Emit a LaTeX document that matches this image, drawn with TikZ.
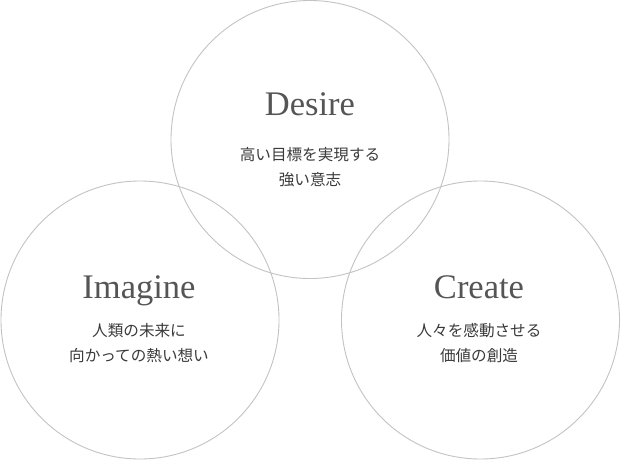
\documentclass[tikz,border=0pt]{standalone}
\usepackage{fontspec}
\setmainfont{Liberation Serif}
\newfontfamily\jpfont{Noto Sans CJK JP}
\definecolor{circ}{HTML}{C4C2C2}
\definecolor{txt}{HTML}{555555}
\definecolor{jtxt}{HTML}{3A3A3A}
\begin{document}
\begin{tikzpicture}[x=1pt,y=-1pt,
  ring/.style={draw=circ,line width=0.9pt,circle,minimum size=278pt,inner sep=0pt},
  title/.style={text=txt,font=\fontsize{34.5}{34.5}\selectfont,anchor=base},
  sub/.style={text=jtxt,font=\jpfont\fontsize{15.6}{25}\selectfont,align=center,anchor=north}]
\useasboundingbox (0,0) rectangle (620,460);
\node[ring] (d) at (310,139.5) {};
\node[ring] (i) at (140,320) {};
\node[ring] (c) at (480.5,320) {};
\node[title] (dt) at (310,115) {Desire};
\node[sub] (ds) at (310,144) {高い目標を実現する\\強い意志};
\node[title] (it) at (139,298) {Imagine};
\node[sub] (is) at (139,320) {人類の未来に\\向かっての熱い想い};
\node[title] (ct) at (479,298) {Create};
\node[sub] (cs) at (479,320) {人々を感動させる\\価値の創造};
\end{tikzpicture}
\end{document}
